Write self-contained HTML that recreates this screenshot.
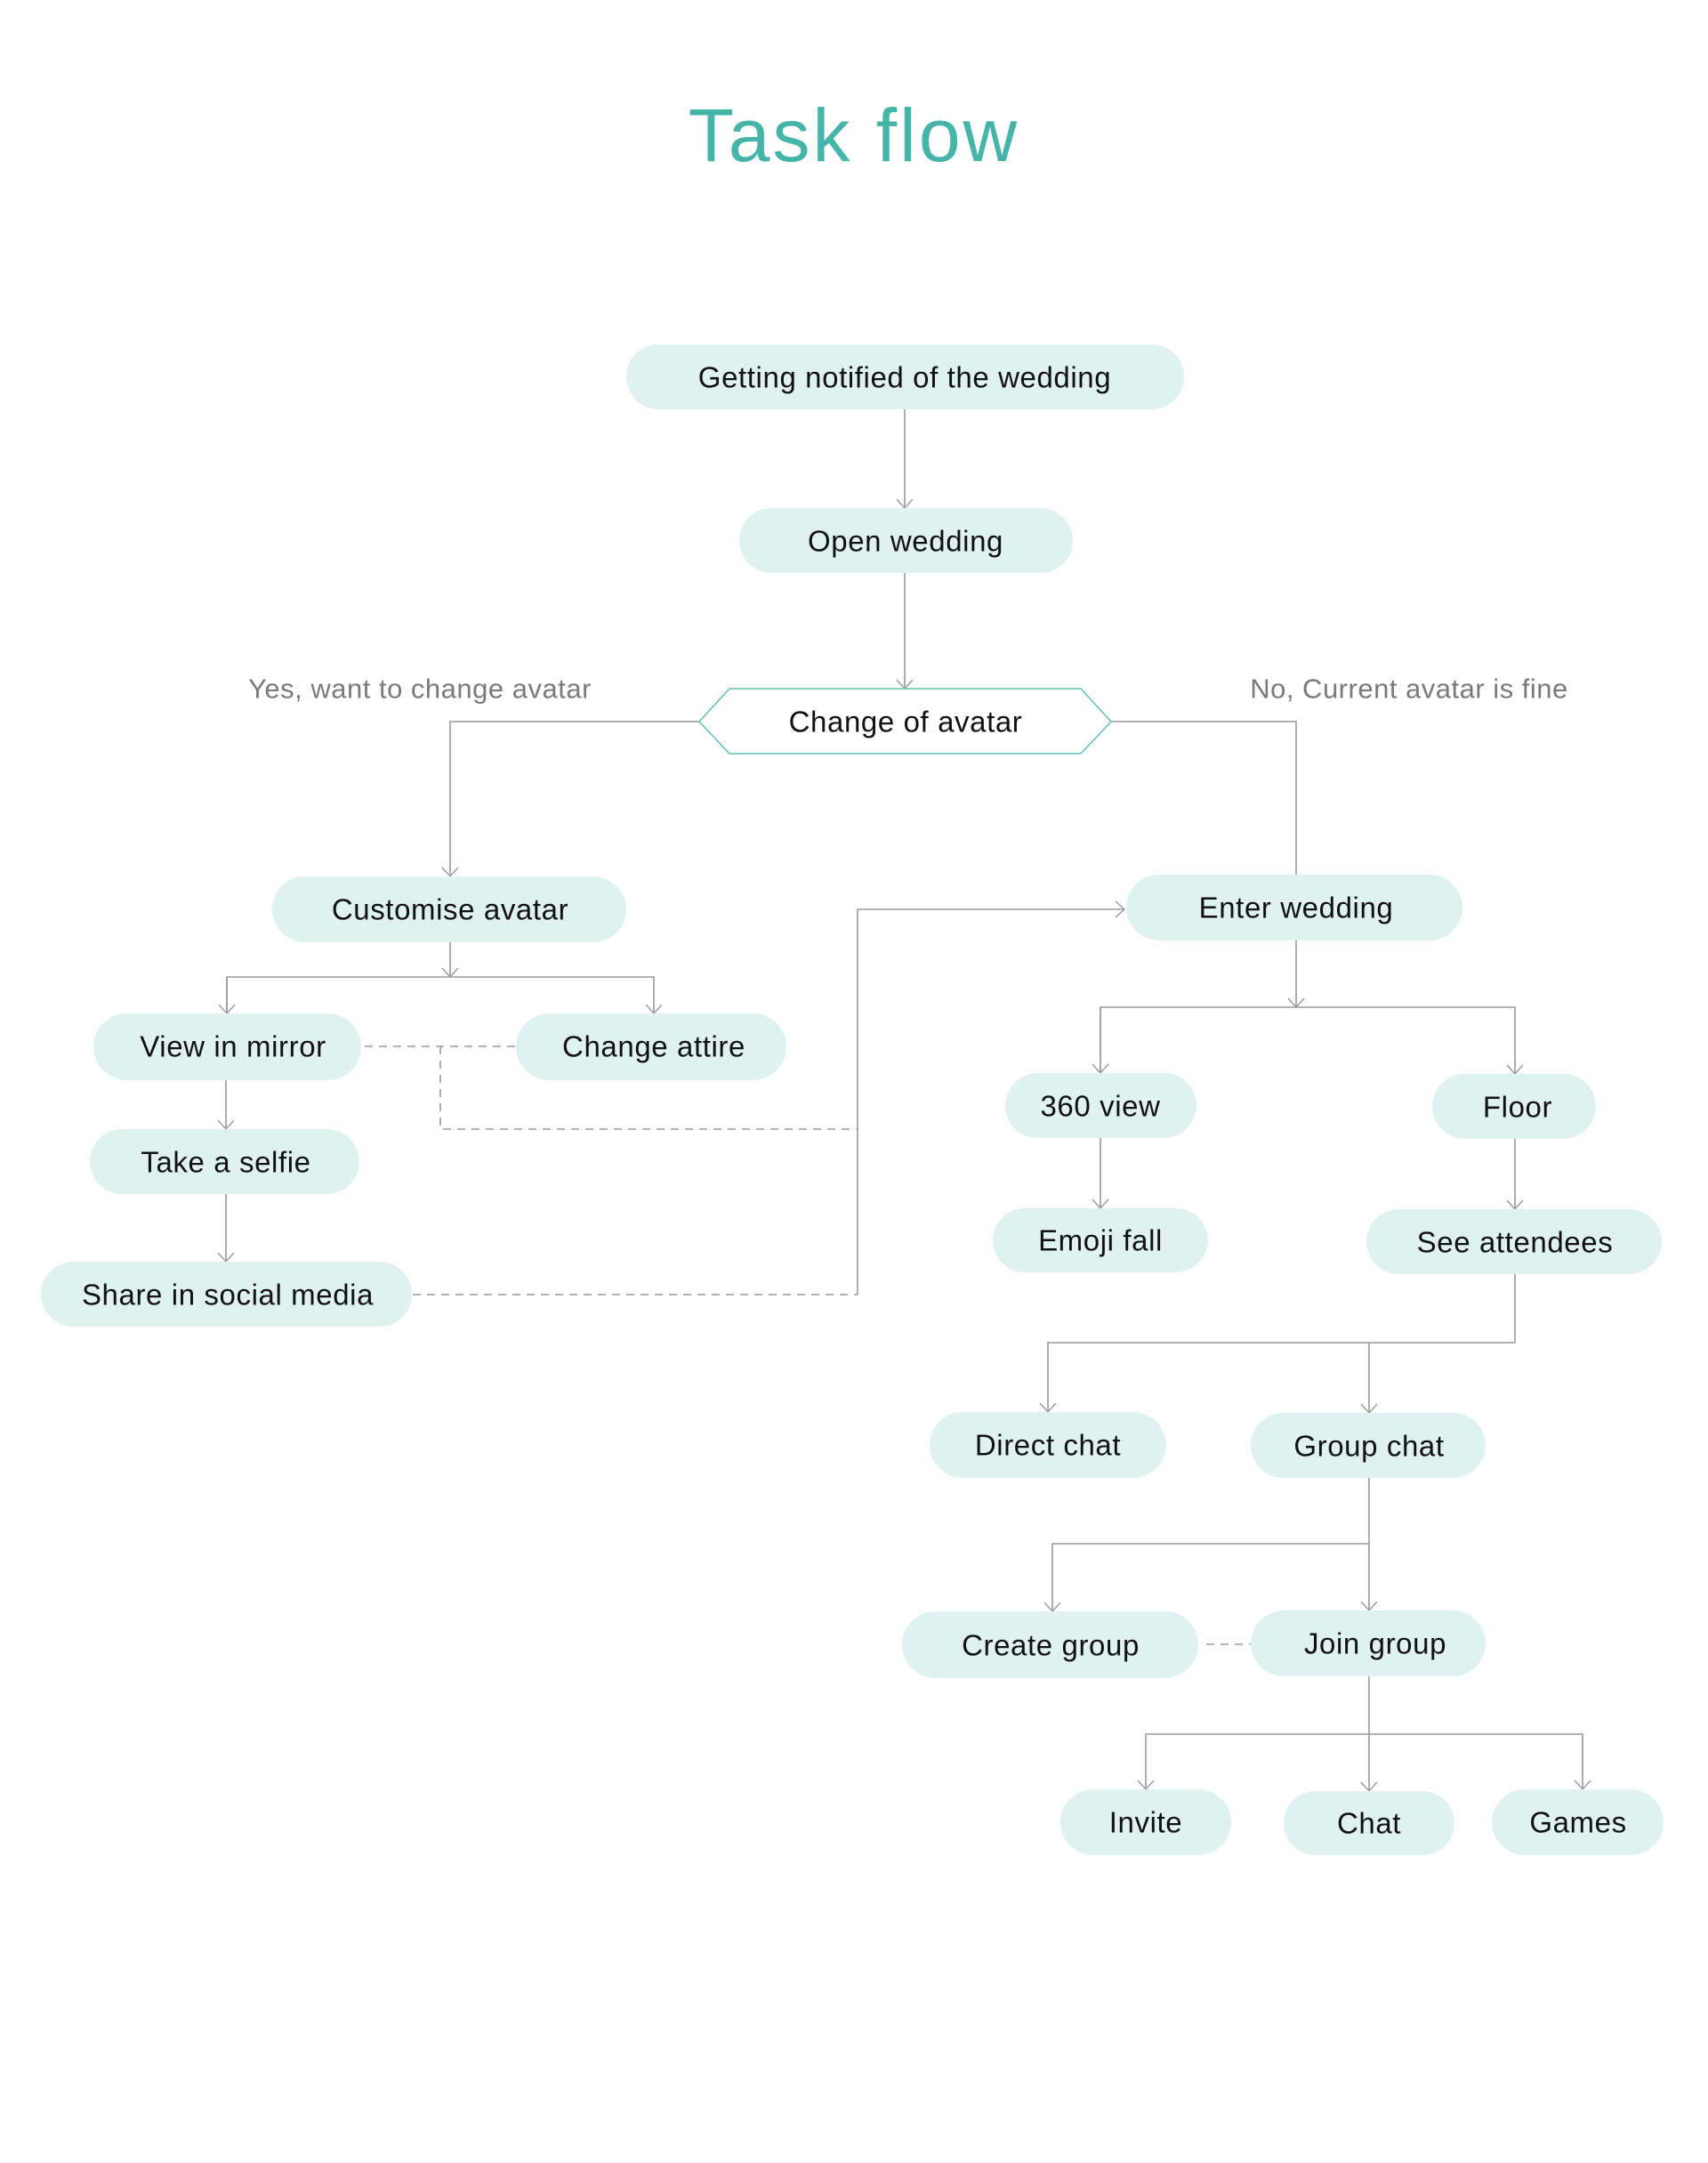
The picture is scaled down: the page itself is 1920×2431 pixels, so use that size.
<!DOCTYPE html>
<html><head><meta charset="utf-8"><style>
html,body{margin:0;padding:0;background:#fff;}
svg{display:block;}
text{font-family:"Liberation Sans",sans-serif;}
.n{fill:#dff2ef;}
.t{font-size:33px;fill:#111;text-anchor:middle;dominant-baseline:central;letter-spacing:0.6px;}
.l{stroke:#9a9a9a;stroke-width:1.6;fill:none;}
.d{stroke:#9a9a9a;stroke-width:1.6;fill:none;stroke-dasharray:9 7;}
.g{font-size:31px;fill:#7a7a7a;text-anchor:middle;dominant-baseline:central;letter-spacing:0.5px;}
</style></head><body>
<svg width="1920" height="2431" viewBox="0 0 1920 2431" xmlns="http://www.w3.org/2000/svg">
<defs><marker id="a" markerWidth="20" markerHeight="14" refX="10" refY="12" orient="0" markerUnits="userSpaceOnUse" viewBox="0 0 20 14">
<path d="M1 2 L10 12 L19 2" fill="none" stroke="#9a9a9a" stroke-width="1.4"/></marker>
<marker id="ar" markerWidth="14" markerHeight="20" refX="12" refY="10" orient="0" markerUnits="userSpaceOnUse" viewBox="0 0 14 20">
<path d="M2 1 L12 10 L2 19" fill="none" stroke="#9a9a9a" stroke-width="1.4"/></marker></defs>

<text x="960" y="152" font-size="84" fill="#45b5aa" text-anchor="middle" dominant-baseline="central" style="letter-spacing:3px">Task flow</text>

<!-- connectors -->
<path class="l" d="M1017 460 V571" marker-end="url(#a)"/>
<path class="l" d="M1017 644 V774" marker-end="url(#a)"/>
<path class="l" d="M786 811 H506 V985" marker-end="url(#a)"/>
<path class="l" d="M1249 811 H1457 V984"/>
<path class="l" d="M506 1059 V1098" marker-end="url(#a)"/>
<path class="l" d="M255 1141 V1098 H735 V1139" marker-end="url(#a)"/>
<path class="l" d="M255 1098 V1139" marker-end="url(#a)"/>
<path class="d" d="M410 1176 H580"/>
<path class="d" d="M495 1176 V1269 H964"/>
<path class="d" d="M464 1455 H964"/>
<path class="l" d="M964 1455 V1022 H1264" marker-end="url(#ar)"/>
<path class="l" d="M254 1214 V1269" marker-end="url(#a)"/>
<path class="l" d="M254 1342 V1418" marker-end="url(#a)"/>
<path class="l" d="M1457 1057 V1132" marker-end="url(#a)"/>
<path class="l" d="M1237 1206 V1132 H1703 V1207" marker-end="url(#a)"/>
<path class="l" d="M1237 1132 V1206" marker-end="url(#a)"/>
<path class="l" d="M1237 1279 V1358" marker-end="url(#a)"/>
<path class="l" d="M1703 1280 V1359" marker-end="url(#a)"/>
<path class="l" d="M1703 1432 V1509 H1178 V1587" marker-end="url(#a)"/>
<path class="l" d="M1539 1509 V1588" marker-end="url(#a)"/>
<path class="l" d="M1539 1661 V1810" marker-end="url(#a)"/>
<path class="l" d="M1539 1735 H1183 V1811" marker-end="url(#a)"/>
<path class="d" d="M1356 1848 H1406"/>
<path class="l" d="M1539 1884 V2013" marker-end="url(#a)"/>
<path class="l" d="M1539 1949 H1288 V2011" marker-end="url(#a)"/>
<path class="l" d="M1539 1949 H1779 V2011" marker-end="url(#a)"/>

<!-- nodes -->
<rect class="n" x="704" y="387" width="627" height="73" rx="36.5"/><text class="t" x="1017" y="424">Getting notified of the wedding</text>
<rect class="n" x="831" y="571" width="375" height="73" rx="36.5"/><text class="t" x="1018" y="608">Open wedding</text>
<polygon points="786,811 820,774 1215,774 1249,811 1215,847 820,847" fill="#fff" stroke="#5fc0b5" stroke-width="1.5"/>
<text class="t" x="1018" y="811">Change of avatar</text>
<text class="g" x="472" y="774">Yes, want to change avatar</text>
<text class="g" x="1584" y="774">No, Current avatar is fine</text>

<rect class="n" x="306" y="985" width="398" height="74" rx="37"/><text class="t" x="506" y="1022">Customise avatar</text>
<rect class="n" x="1266" y="983" width="378" height="74" rx="37"/><text class="t" x="1457" y="1020">Enter wedding</text>
<rect class="n" x="105" y="1139" width="301" height="75" rx="37.5"/><text class="t" x="262" y="1176">View in mirror</text>
<rect class="n" x="580" y="1139" width="304" height="75" rx="37.5"/><text class="t" x="735" y="1176">Change attire</text>
<rect class="n" x="101" y="1269" width="303" height="73" rx="36.5"/><text class="t" x="254" y="1306">Take a selfie</text>
<rect class="n" x="46" y="1418" width="417" height="73" rx="36.5"/><text class="t" x="256" y="1455">Share in social media</text>

<rect class="n" x="1130" y="1206" width="215" height="73" rx="36.5"/><text class="t" x="1237" y="1243">360 view</text>
<rect class="n" x="1610" y="1207" width="184" height="73" rx="36.5"/><text class="t" x="1706" y="1244">Floor</text>
<rect class="n" x="1116" y="1358" width="242" height="72" rx="36"/><text class="t" x="1237" y="1394">Emoji fall</text>
<rect class="n" x="1536" y="1359" width="332" height="73" rx="36.5"/><text class="t" x="1703" y="1396">See attendees</text>
<rect class="n" x="1045" y="1587" width="266" height="74" rx="37"/><text class="t" x="1178" y="1624">Direct chat</text>
<rect class="n" x="1406" y="1588" width="264" height="73" rx="36.5"/><text class="t" x="1539" y="1625">Group chat</text>
<rect class="n" x="1014" y="1811" width="333" height="75" rx="37.5"/><text class="t" x="1181" y="1849">Create group</text>
<rect class="n" x="1406" y="1810" width="264" height="74" rx="37"/><text class="t" x="1546" y="1847">Join group</text>
<rect class="n" x="1192" y="2011" width="192" height="74" rx="37"/><text class="t" x="1288" y="2048">Invite</text>
<rect class="n" x="1443" y="2013" width="192" height="72" rx="36"/><text class="t" x="1539" y="2049">Chat</text>
<rect class="n" x="1677" y="2011" width="193" height="74" rx="37"/><text class="t" x="1774" y="2048">Games</text>
</svg>
</body></html>
